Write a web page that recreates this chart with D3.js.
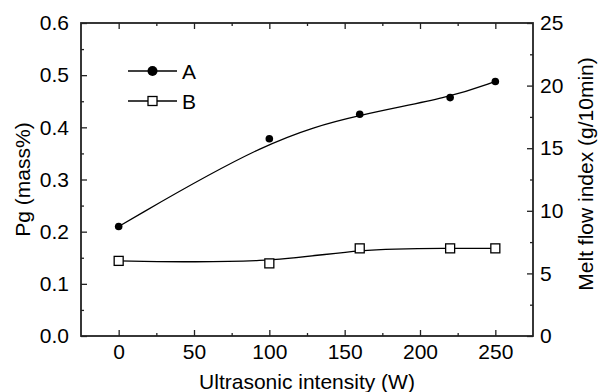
<!DOCTYPE html>
<html>
<head>
<meta charset="utf-8">
<script src="https://cdn.jsdelivr.net/npm/d3@7"></script>
<style>
  body { margin: 0; background: #fff; }
  text { font-family: Arial, "Liberation Sans", sans-serif; fill: #000; }
</style>
</head>
<body>
<div id="chart"></div>
<script>
// data
const intensity = [0, 100, 160, 220, 250];
const pgValues = [0.21, 0.378, 0.425, 0.457, 0.488];   // A, left axis
const mfiValues = [6.0, 5.8, 7.0, 7.0, 7.0];           // B, right axis
const seriesNames = ['A', 'B'];
const xTicks = [0, 50, 100, 150, 200, 250];
const leftTicks = [0, 0.1, 0.2, 0.3, 0.4, 0.5, 0.6];
const rightTicks = [0, 5, 10, 15, 20, 25];

const W = 599, H = 392;
const margin = {top: 23, right: 66, bottom: 56, left: 81};
const width = W - margin.left - margin.right;
const height = H - margin.top - margin.bottom;
const ink = '#222';
const fs = '21px';

const svg = d3.select('#chart').append('svg')
  .attr('width', W)
  .attr('height', H);

const g = svg.append('g')
  .attr('transform', `translate(${margin.left},${margin.top})`);

const x = d3.scaleLinear().domain([-25, 275]).range([0, width]);
const yL = d3.scaleLinear().domain([0, 0.6]).range([height, 0]);
const yR = d3.scaleLinear().domain([0, 25]).range([height, 0]);

// minor ticks first, then major axes with labels
function minor(axis, values) {
  return axis.tickValues(values).tickSize(3).tickFormat('');
}
const xMinor = d3.range(25, 250, 50);
const lMinor = d3.range(0.05, 0.6, 0.1);
const rMinor = d3.range(2.5, 25, 5);

g.append('g').attr('transform', `translate(0,${height})`)
  .call(minor(d3.axisTop(x), xMinor));
g.append('g').call(minor(d3.axisBottom(x), xMinor));
g.append('g').call(minor(d3.axisRight(yL), lMinor));
g.append('g').attr('transform', `translate(${width},0)`)
  .call(minor(d3.axisLeft(yR), rMinor));

const xAxis = g.append('g').attr('transform', `translate(0,${height})`)
  .call(d3.axisTop(x).tickValues(xTicks).tickSize(6).tickFormat(d3.format('d')));
xAxis.selectAll('text').attr('y', 8).attr('dy', '0.71em');

g.append('g').call(d3.axisBottom(x).tickValues(xTicks).tickSize(6).tickFormat(''));

const lAxis = g.append('g')
  .call(d3.axisRight(yL).tickValues(leftTicks).tickSize(6).tickFormat(d3.format('.1f')));
lAxis.selectAll('text').attr('x', -12).attr('text-anchor', 'end');

const rAxis = g.append('g').attr('transform', `translate(${width},0)`)
  .call(d3.axisLeft(yR).tickValues(rightTicks).tickSize(6).tickFormat(d3.format('d')));
rAxis.selectAll('text').attr('x', 7).attr('text-anchor', 'start');

g.selectAll('.domain').remove();
g.selectAll('.tick line').attr('stroke', ink).attr('stroke-width', 1.3);
g.selectAll('.tick text').style('font-size', fs).attr('fill', '#000');

// frame
g.append('rect')
  .attr('width', width).attr('height', height)
  .attr('fill', 'none').attr('stroke', ink).attr('stroke-width', 1.8);

// series, smoothed like the original B-spline
const lineA = d3.line().x((d, i) => x(intensity[i])).y(d => yL(d)).curve(d3.curveBasis);
const lineB = d3.line().x((d, i) => x(intensity[i])).y(d => yR(d)).curve(d3.curveBasis);

g.append('path').attr('d', lineA(pgValues))
  .attr('fill', 'none').attr('stroke', '#000').attr('stroke-width', 1.3);
g.append('path').attr('d', lineB(mfiValues))
  .attr('fill', 'none').attr('stroke', '#000').attr('stroke-width', 1.3);

g.selectAll('.ptA').data(pgValues).enter().append('circle')
  .attr('cx', (d, i) => x(intensity[i])).attr('cy', d => yL(d))
  .attr('r', 3.8).attr('fill', '#000');

g.selectAll('.ptB').data(mfiValues).enter().append('rect')
  .attr('x', (d, i) => x(intensity[i]) - 4.5).attr('y', d => yR(d) - 4.5)
  .attr('width', 9).attr('height', 9)
  .attr('fill', '#fff').attr('stroke', '#000').attr('stroke-width', 1.3);

// legend
const legend = g.append('g').attr('transform', 'translate(47,48)');
seriesNames.forEach((name, i) => {
  const row = legend.append('g').attr('transform', `translate(0,${i * 30})`);
  row.append('line').attr('x1', 0).attr('x2', 49)
    .attr('stroke', '#000').attr('stroke-width', 1.3);
  if (i === 0) {
    row.append('circle').attr('cx', 24.5).attr('r', 5).attr('fill', '#000');
  } else {
    row.append('rect').attr('x', 20).attr('y', -4.5).attr('width', 9).attr('height', 9)
      .attr('fill', '#fff').attr('stroke', '#000').attr('stroke-width', 1.3);
  }
  row.append('text').attr('x', 54).attr('y', 7.5)
    .style('font-size', fs).text(name);
});

// axis titles
svg.append('text')
  .attr('x', margin.left + width / 2).attr('y', 389)
  .attr('text-anchor', 'middle').style('font-size', fs)
  .text('Ultrasonic intensity (W)');

svg.append('text')
  .attr('transform', `translate(30,${margin.top + height / 2}) rotate(-90)`)
  .attr('text-anchor', 'middle').style('font-size', fs)
  .text('Pg (mass%)');

svg.append('text')
  .attr('transform', `translate(593,174) rotate(-90)`)
  .attr('text-anchor', 'middle').style('font-size', fs)
  .text('Melt flow index (g/10min)');
</script>
</body>
</html>
